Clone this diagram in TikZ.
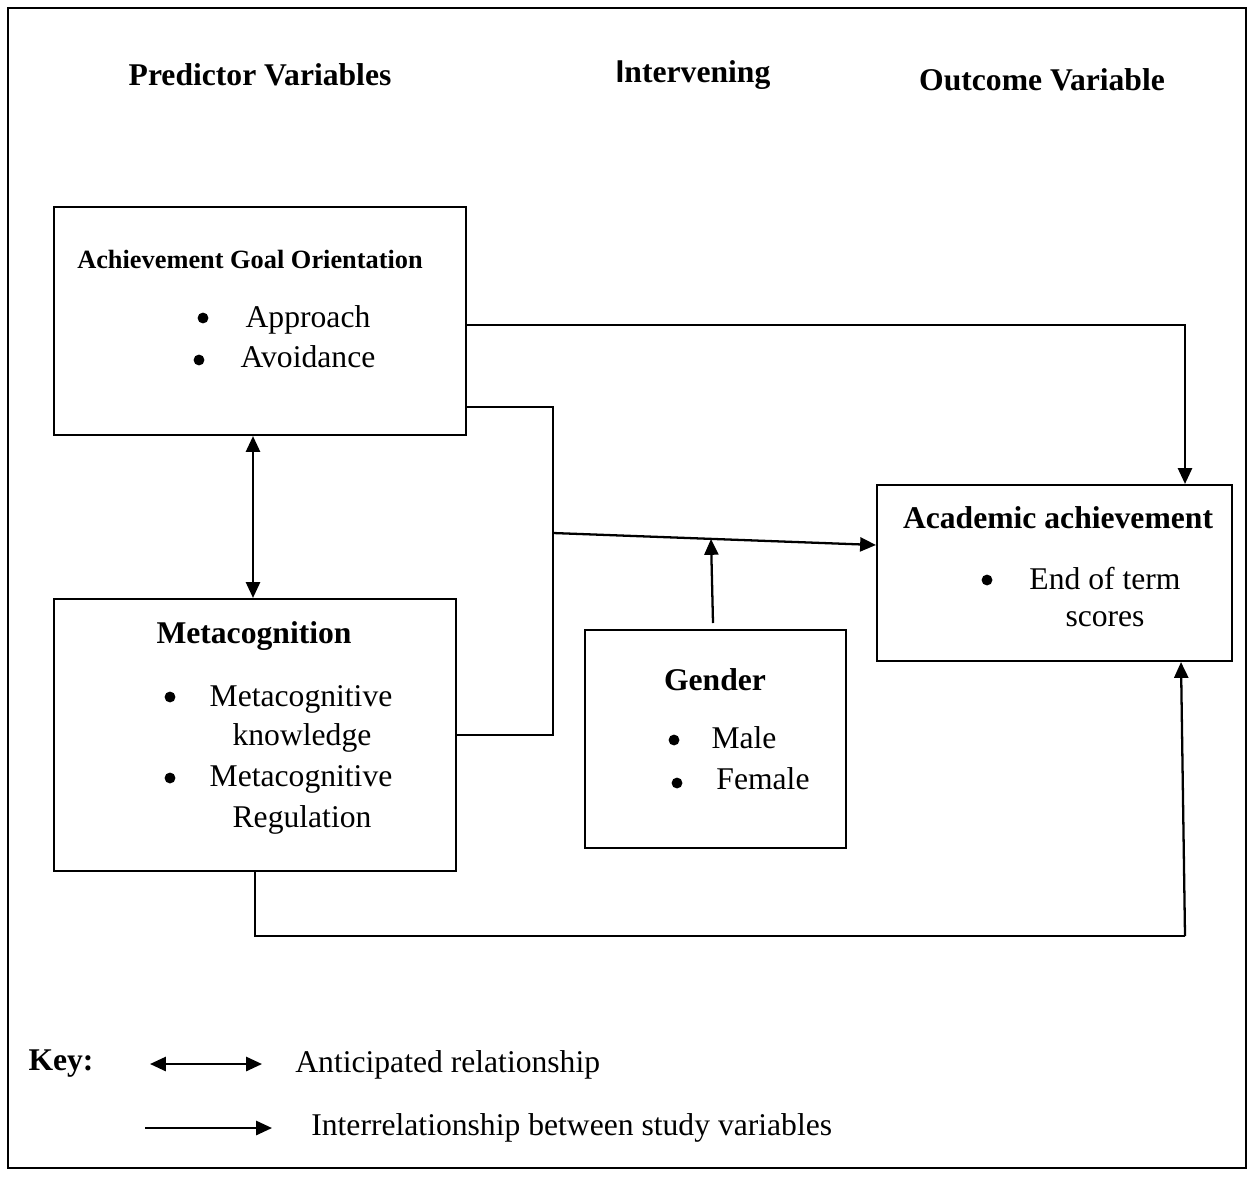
\documentclass[tikz,border=0pt]{standalone}
\usepackage{fontspec}
\setmainfont{Liberation Serif}
\setsansfont{Liberation Sans}
\usetikzlibrary{arrows.meta,fit}
\begin{document}
\begin{tikzpicture}
  [x=0.02cm,y=-0.02cm,
   every node/.style={inner sep=0pt,font=\fontsize{18}{22}\selectfont},
   box/.style={draw,line width=1.2pt,fit={#1}},
   head/.style={font=\fontsize{18}{22}\selectfont\bfseries},
   dot/.style={circle,fill,minimum size=6.2pt},
   arrow/.style={line width=1.3pt,-{Triangle[length=9pt,width=8pt]}},
   twoway/.style={line width=1.3pt,{Triangle[length=9pt,width=8pt]}-{Triangle[length=9pt,width=8pt]}},
   link/.style={line width=0.7pt}]
\useasboundingbox (0,0) rectangle (1253,1176);
\draw[line width=1.2pt] (8,8) rectangle (1246,1168);
% headings
\node (h1)[head] at (260,75) {Predictor Variables};
\node (h2)[head] at (693,75) {{\sffamily I}ntervening};
\node (h3)[head] at (1042,80) {Outcome Variable};
% boxes
\node (ago)[box={(54,207) (466,435)}] {};
\node (meta)[box={(54,599) (456,871)}] {};
\node (gender)[box={(585,630) (846,848)}] {};
\node (acad)[box={(877,485) (1232,661)}] {};
% box texts
\node (t1)[font=\fontsize{15}{18}\selectfont\bfseries] at (250,259) {Achievement Goal Orientation};
\node (b1)[dot] at (203,318) {};
\node (t2) at (308,320) {Approach};
\node (b2)[dot] at (199,360) {};
\node (t3) at (308,357) {Avoidance};
\node (t4)[head] at (254,636) {Metacognition};
\node (b3)[dot] at (170,697) {};
\node (t5) at (301,699) {Metacognitive};
\node (t6) at (302,738) {knowledge};
\node (b4)[dot] at (170,778) {};
\node (t7) at (301,779) {Metacognitive};
\node (t8) at (302,820) {Regulation};
\node (t9)[head] at (715,680) {Gender};
\node (b5)[dot] at (674,740) {};
\node (t10) at (744,738) {Male};
\node (b6)[dot] at (677,783) {};
\node (t11) at (763,779) {Female};
\node (t12)[head] at (1058,518) {Academic achievement};
\node (b7)[dot] at (987,580) {};
\node (t13) at (1105,579) {End of term};
\node (t14) at (1105,619) {scores};
% connectors
\coordinate (a1) at (1185,325);
\draw[arrow] (ago.east |- a1) -| (acad.north -| a1);
\coordinate (m1) at (553,407);
\coordinate (m2) at (553,735);
\draw[link] (ago.east |- m1) -- (m1) -- (m2) -- (meta.east |- m2);
\coordinate (m3) at (553,533);
\coordinate (a2) at (0,545);
\draw[arrow] (m3) -- (acad.west |- a2);
\coordinate (g1) at (711,539);
\coordinate (g2) at (713,623);
\draw[arrow] (g2) -- (g1);
\coordinate (d1) at (253,0);
\draw[twoway] (ago.south -| d1) -- (meta.north -| d1);
\coordinate (c1) at (255,936);
\coordinate (c2) at (1185,936);
\coordinate (c3) at (1181,0);
\draw[link] (meta.south -| c1) -- (c1) -- (c2);
\draw[arrow] (c2) -- (acad.south -| c3);
% key
\node (key)[head] at (61,1064) {Key:};
\coordinate (k1) at (150,1064);
\coordinate (k2) at (262,1064);
\draw[twoway] (k1) -- (k2);
\node (l1)[anchor=west] at (295,1065) {Anticipated relationship};
\coordinate (k3) at (145,1128);
\coordinate (k4) at (272,1128);
\draw[arrow] (k3) -- (k4);
\node (l2)[anchor=west] at (311,1128) {Interrelationship between study variables};
\end{tikzpicture}
\end{document}
